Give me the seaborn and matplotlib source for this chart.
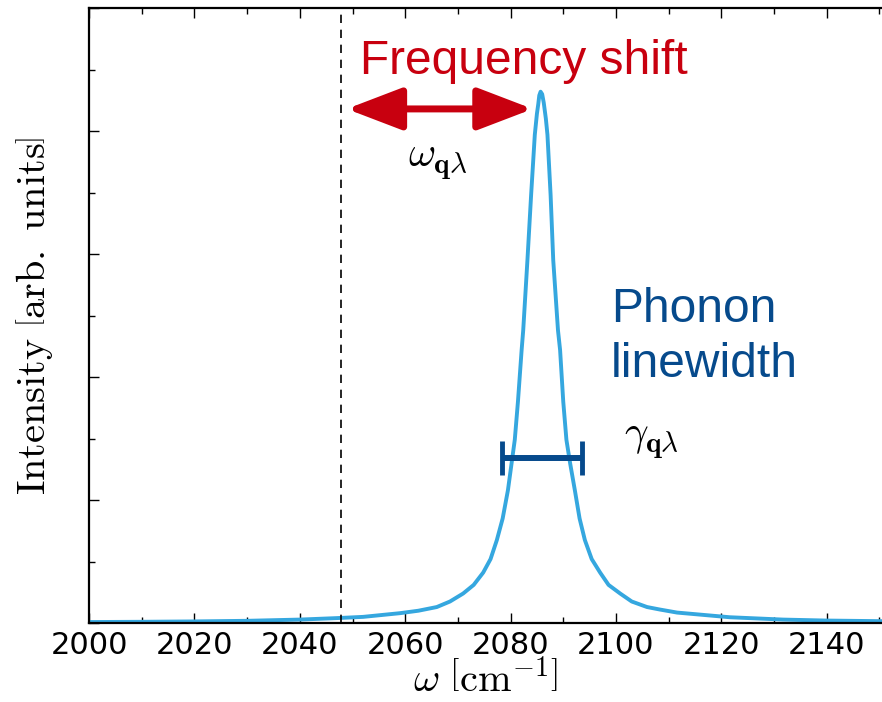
import matplotlib
matplotlib.use("Agg")
import matplotlib.pyplot as plt
import seaborn as sns
import pandas as pd
from matplotlib.ticker import MultipleLocator

# ---- data ----
freq = [2000, 2010, 2020, 2030, 2040, 2047, 2052, 2059, 2062.5, 2066.0, 2068.5, 2071.0,
        2073.0, 2074.8, 2076.2, 2077.4, 2078.5, 2079.5, 2080.8, 2081.4, 2082.1, 2082.4,
        2083.2, 2083.9, 2084.6, 2085.0, 2085.26, 2085.45, 2085.7, 2086.0, 2086.3,
        2086.7, 2087.0, 2087.6, 2088.1, 2089.0, 2089.4, 2090.0, 2090.6, 2091.3,
        2092.2, 2093.1, 2094.1, 2095.4, 2097.0, 2098.6, 2100.8, 2103.0, 2105.9,
        2108.3, 2111.6, 2121.6, 2131.7, 2140, 2150.5]
intensity = [0.008, 0.010, 0.013, 0.018, 0.028, 0.040, 0.050, 0.080, 0.100, 0.13, 0.175, 0.24,
             0.31, 0.41, 0.52, 0.675, 0.85, 1.08, 1.49, 1.80, 2.22, 2.38,
             2.95, 3.48, 3.97, 4.14, 4.22, 4.29, 4.32, 4.30, 4.23,
             4.10, 3.97, 3.48, 2.95, 2.38, 2.22, 1.80, 1.49, 1.30,
             1.08, 0.85, 0.675, 0.52, 0.41, 0.31, 0.24, 0.175, 0.13,
             0.11, 0.085, 0.047, 0.028, 0.020, 0.015]
bare_freq = 2047.8                 # dashed reference line
shift_arrow = [2048.9, 2084.2]     # frequency-shift arrow ends
shift_arrow_y = 4.18
width_center = 2085.95             # linewidth bar
width_half = 7.55
width_y = 1.34
xticks = [2000, 2020, 2040, 2060, 2080, 2100, 2120, 2140]

df = pd.DataFrame({"freq": freq, "intensity": intensity})

sns.set_style("ticks")
plt.rcParams["font.family"] = ["DejaVu Sans"]
plt.rcParams["mathtext.fontset"] = "cm"
plt.rcParams["text.color"] = "black"
plt.rcParams["axes.labelcolor"] = "black"
plt.rcParams["xtick.color"] = "black"
plt.rcParams["ytick.color"] = "black"

fig = plt.figure(figsize=(8.82, 7.02), dpi=100)
ax = fig.add_axes([0.101, 0.1125, 0.899, 0.876])

sns.lineplot(data=df, x="freq", y="intensity", ax=ax, color="#35a7df", lw=2.8)
ax.lines[0].set_solid_joinstyle("round")

ax.axvline(bare_freq, color="black", ls=(0, (5, 4)), lw=1.2)

red = "#c8000f"
ax.annotate("", xy=(shift_arrow[1], shift_arrow_y), xytext=(shift_arrow[0], shift_arrow_y),
            arrowprops=dict(arrowstyle="<|-|>,head_length=3.4,head_width=1.3",
                            color=red, lw=5, shrinkA=0, shrinkB=0,
                            mutation_scale=10))
ax.text(2051.4, 4.46, "Frequency shift", color=red, fontsize=34.5,
        family=["Liberation Sans", "DejaVu Sans"], ha="left", va="baseline")
ax.text(2066.2, 3.76, r"$\omega_{\mathbf{q}\lambda}$", fontsize=30, ha="center", va="center")

blue = "#064a8c"
ax.errorbar([width_center], [width_y], xerr=[width_half], fmt="none", ecolor=blue,
            elinewidth=4.3, capsize=12.5, capthick=3.5)
ax.text(2099.05, 2.0, "Phonon\nlinewidth", color=blue, fontsize=34.5,
        family=["Liberation Sans", "DejaVu Sans"], ha="left", va="baseline",
        linespacing=1.3)
ax.text(2101.5, 1.49, r"$\gamma_{\mathbf{q}\lambda}$", fontsize=30, ha="left", va="center")

ax.set_xlim(2000, 2150.5)
ax.set_ylim(0, 5)
ax.set_xticks(xticks)
ax.xaxis.set_minor_locator(MultipleLocator(10))
ax.yaxis.set_major_locator(MultipleLocator(1))
ax.yaxis.set_minor_locator(MultipleLocator(0.5))
ax.set_yticklabels([])
ax.tick_params(axis="both", which="both", direction="in", top=True, right=False,
               color="black")
ax.tick_params(which="major", length=7, width=1)
ax.tick_params(which="minor", length=4, width=1)
ax.tick_params(axis="x", labelsize=22, pad=6)
for s in ["left", "bottom", "top"]:
    ax.spines[s].set_linewidth(1.6)
    ax.spines[s].set_color("black")
ax.spines["right"].set_visible(False)

ax.set_xlabel(r"$\omega\ \left[\mathrm{cm}^{-1}\right]$", fontsize=29, labelpad=0)
ax.set_ylabel(r"$\mathrm{Intensity}\ \left[\mathrm{arb.\ units}\right]$", fontsize=29,
              labelpad=21)

fig.savefig("out.png", dpi=100)
